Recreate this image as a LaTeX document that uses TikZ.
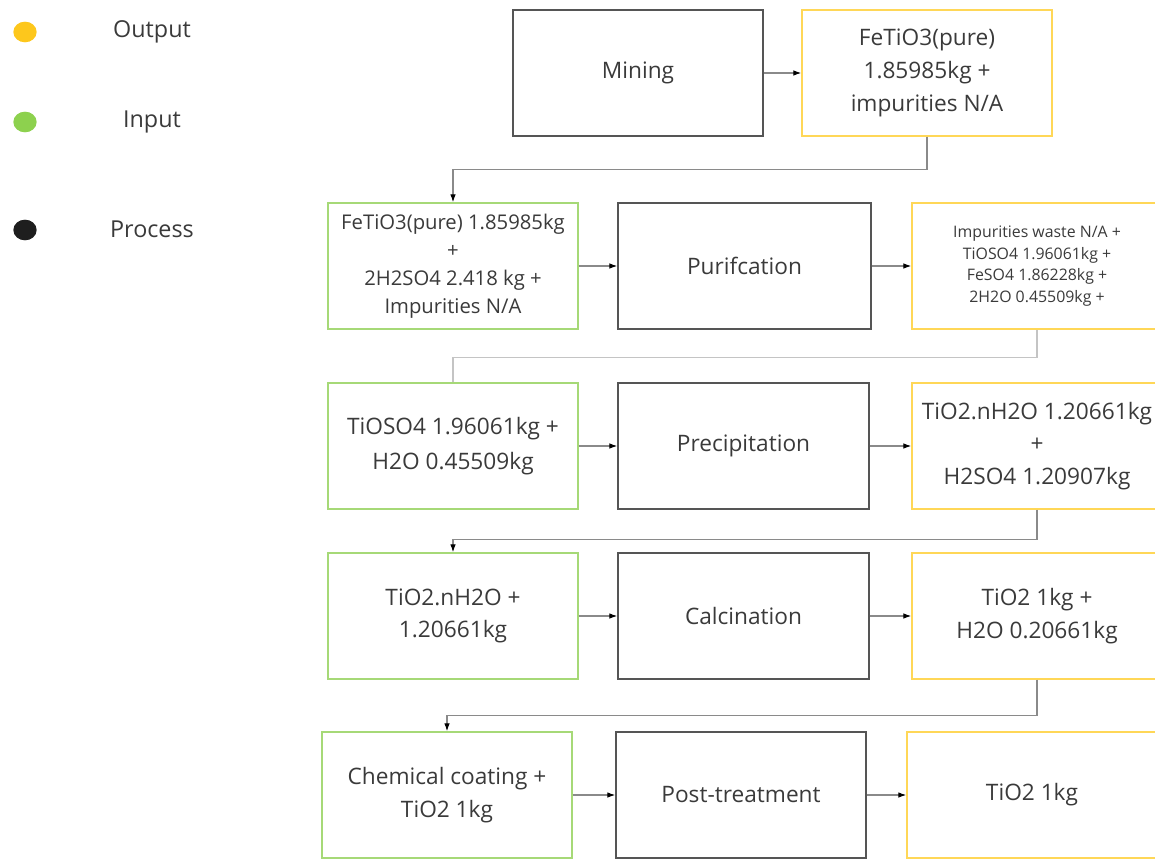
\documentclass[tikz,border=0pt]{standalone}
\usepackage{fontspec}
\setmainfont{Open Sans}
\usetikzlibrary{arrows.meta,shapes.geometric}
\definecolor{txt}{HTML}{3A3A3A}
\definecolor{ylw}{HTML}{FFD757}
\definecolor{grn}{HTML}{A6D977}
\definecolor{prc}{HTML}{555555}
\definecolor{dotY}{HTML}{FDC71C}
\definecolor{dotG}{HTML}{8DD14E}
\definecolor{dotK}{HTML}{1E1E1E}
\definecolor{conn}{HTML}{8A8A8A}
\definecolor{connL}{HTML}{C4C4C4}
\tikzset{
  box/.style={rectangle, draw, line width=1.1pt, minimum width=187.5pt, minimum height=94.5pt,
    inner sep=0pt, align=center, text=txt, font=\fontsize{17}{24.5}\selectfont},
  outbox/.style={box, draw=ylw},
  inbox/.style={box, draw=grn},
  procbox/.style={box, draw=prc},
  midtxt/.style={font=\fontsize{15.2}{21}\selectfont},
  smalltxt/.style={font=\fontsize{11.9}{16.2}\selectfont},
  arr/.style={draw=conn, line width=0.8pt, -{Latex[length=6pt,width=4.2pt,color=black]}},
  plain/.style={draw=connL, line width=0.8pt},
  dot/.style={ellipse, inner sep=0pt, minimum width=17.5pt, minimum height=15.5pt},
  legend/.style={text=txt, font=\fontsize{17.5}{20}\selectfont}
}
\begin{document}
\begin{tikzpicture}[x=0.75pt,y=-0.75pt]
\useasboundingbox (0,0) rectangle (1155,859);
% legend
\node[dot, fill=dotY] (dy) at (25,32) {};
\node[dot, fill=dotG] (dg) at (25,122) {};
\node[dot, fill=dotK] (dk) at (25,230) {};
\node[legend] (ly) at (152,32) {Output};
\node[legend] (lg) at (152,122) {Input};
\node[legend] (lk) at (152,229) {Process};
% row 1
\node[procbox] (mining) at (638,73) {Mining};
\node[outbox] (ore) at (927,73) {FeTiO3(pure)\\1.85985kg +\\impurities N/A};
% row 2
\node[inbox, midtxt] (in1) at (453,266) {FeTiO3(pure) 1.85985kg\\+\\2H2SO4 2.418 kg +\\Impurities N/A};
\node[procbox, minimum width=189.75pt] (p1) at (744.5,266) {Purifcation};
\node[outbox, smalltxt] (out1) at (1037,266) {Impurities waste N/A +\\TiOSO4 1.96061kg +\\FeSO4 1.86228kg +\\2H2O 0.45509kg +};
% row 3
\node[inbox, font=\fontsize{17}{26.5}\selectfont] (in2) at (453,446) {TiOSO4 1.96061kg +\\H2O 0.45509kg};
\node[procbox, minimum width=188.25pt] (p2) at (743.5,446) {Precipitation};
\node[outbox] (out2) at (1037,446) {TiO2.nH2O 1.20661kg\\+\\H2SO4 1.20907kg};
% row 4
\node[inbox] (in3) at (453,616) {TiO2.nH2O +\\1.20661kg};
\node[procbox, minimum width=188.25pt] (p3) at (743.5,616) {Calcination};
\node[outbox] (out3) at (1037,616) {TiO2 1kg +\\H2O 0.20661kg};
% row 5
\node[inbox] (in4) at (447,795) {Chemical coating +\\TiO2 1kg};
\node[procbox] (p4) at (741,795) {Post-treatment};
\node[outbox] (out4) at (1032,795) {TiO2 1kg};
% connectors
\draw[arr] (mining.east) -- (ore.west);
\draw[arr] (ore.south) -- ++(0,33) -| (in1.north);
\draw[arr] (in1.east) -- (p1.west);
\draw[arr] (p1.east) -- (out1.west);
\draw[plain] (out1.south) -- ++(0,28) -| (in2.north);
\draw[arr] (in2.east) -- (p2.west);
\draw[arr] (p2.east) -- (out2.west);
\draw[arr] (out2.south) -- ++(0,30) -| (in3.north);
\draw[arr] (in3.east) -- (p3.west);
\draw[arr] (p3.east) -- (out3.west);
\draw[arr] (out3.south) -- ++(0,36) -| (in4.north);
\draw[arr] (in4.east) -- (p4.west);
\draw[arr] (p4.east) -- (out4.west);
\end{tikzpicture}
\end{document}
